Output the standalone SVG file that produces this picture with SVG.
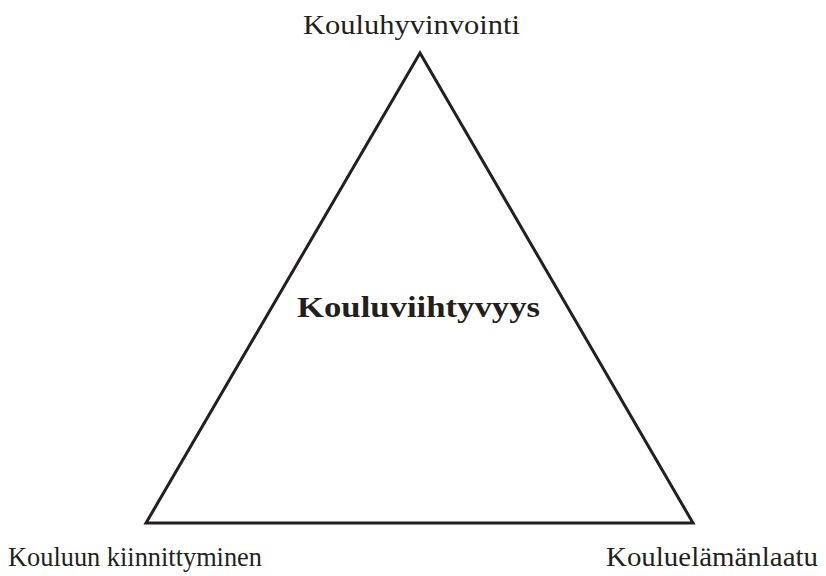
<svg xmlns="http://www.w3.org/2000/svg" width="826" height="576" viewBox="0 0 826 576">
<style>
.t{font-family:"Liberation Serif","DejaVu Serif",serif;font-size:28px;fill:#231f20}
.b{font-weight:bold;font-size:29px}
</style>
<rect width="826" height="576" fill="#fff"/>
<g id="connectors">
<polygon points="420,53 146,523 693,523" fill="none" stroke="#231f20" stroke-width="3" stroke-linejoin="miter"/>
</g>
<g id="top"><text class="t" x="303" y="34" textLength="217" lengthAdjust="spacingAndGlyphs">Kouluhyvinvointi</text></g>
<g id="center"><text class="t b" x="297" y="317" textLength="243" lengthAdjust="spacingAndGlyphs">Kouluviihtyvyys</text></g>
<g id="left"><text class="t" x="8" y="566" textLength="254" lengthAdjust="spacingAndGlyphs">Kouluun kiinnittyminen</text></g>
<g id="right"><text class="t" x="606" y="566" textLength="212" lengthAdjust="spacingAndGlyphs">Kouluelämänlaatu</text></g>
</svg>
